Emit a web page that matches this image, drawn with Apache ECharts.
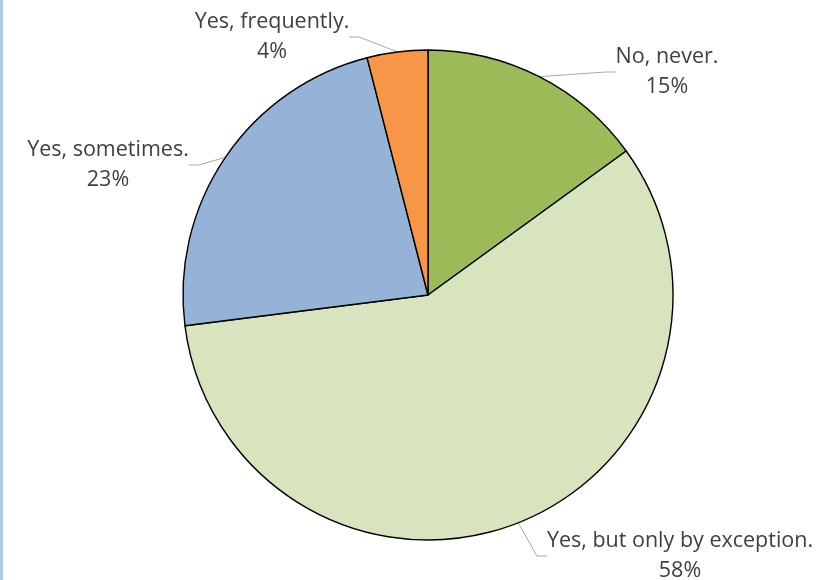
<!DOCTYPE html>
<html>
<head>
<meta charset="utf-8">
<script src="https://cdn.jsdelivr.net/npm/echarts@6/dist/echarts.min.js"></script>
<style>
  html, body { margin: 0; padding: 0; background: #fff; }
  #chart { width: 822px; height: 580px; position: relative; }
  #edge { position: absolute; left: 0; top: 0; width: 3px; height: 580px; background: #b0c6ec; }
</style>
</head>
<body>
<div id="chart"></div>
<div id="edge"></div>
<script>
// Survey answers, percentages
const categories = ['No, never.', 'Yes, but only by exception.', 'Yes, sometimes.', 'Yes, frequently.'];
const values = [15, 58, 23, 4];
const colors = ['#9bbb59', '#d7e4bd', '#95b3d7', '#f79646'];
// Label anchor points (centre of each two-line label)
const labelSpots = [[667, 72], [680, 556], [108, 165], [272, 37]];

const chart = echarts.init(document.getElementById('chart'), null, { renderer: 'canvas' });
chart.setOption({
  animation: false,
  series: [{
    type: 'pie',
    center: [428, 295],
    radius: 245,
    startAngle: 90,
    clockwise: true,
    data: categories.map((name, i) => ({ name, value: values[i], itemStyle: { color: colors[i] } })),
    itemStyle: { borderColor: '#000', borderWidth: 1.4 },
    label: {
      show: true,
      formatter: '{b}\n{c}%',
      fontFamily: '"Open Sans", sans-serif',
      fontSize: 21.5,
      lineHeight: 30,
      color: '#404040',
      align: 'center'
    },
    labelLine: { show: true, length: 20, length2: 10, lineStyle: { color: '#a6a6a6', width: 1 } },
    labelLayout: function (params) {
      const p = labelSpots[params.dataIndex];
      return { x: p[0], y: p[1], align: 'center', verticalAlign: 'middle' };
    },
    emphasis: { disabled: true }
  }]
});
</script>
</body>
</html>
